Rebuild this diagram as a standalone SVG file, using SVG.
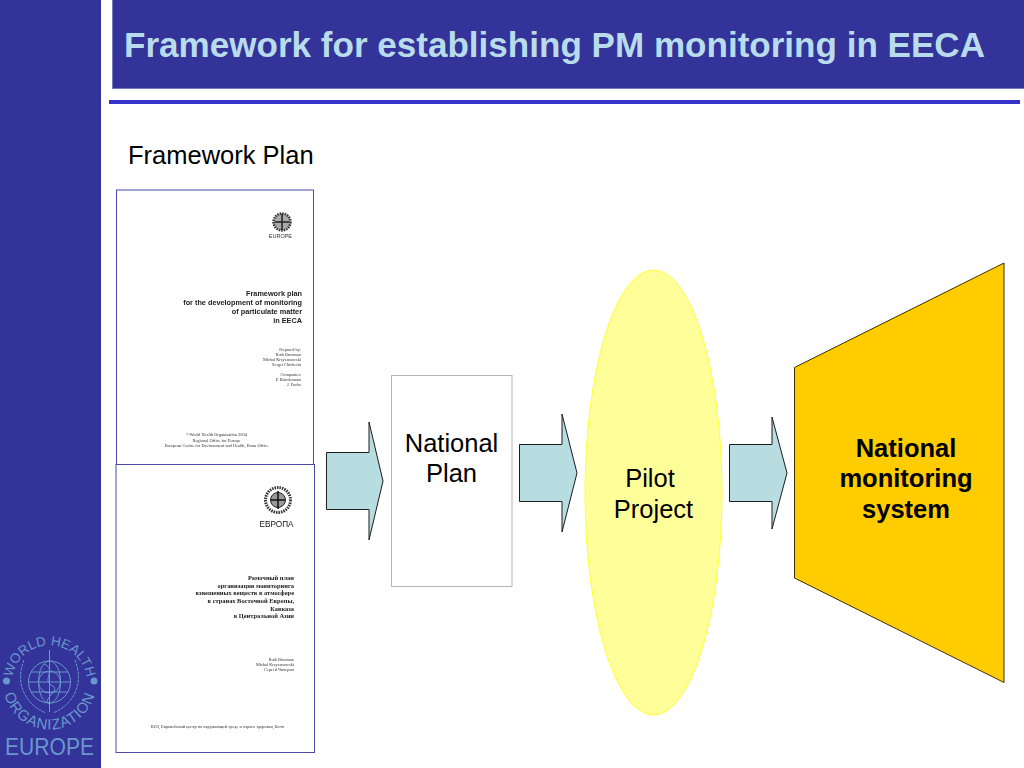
<svg xmlns="http://www.w3.org/2000/svg" width="1024" height="768" viewBox="0 0 1024 768">
<style>
text{font-family:"Liberation Sans",Arial,sans-serif}
.arrow{fill:#b8dde1;stroke:#1c1c1c;stroke-width:1}
.label{font-size:25.500px;fill:#000;text-anchor:middle}
.bold{font-weight:bold;font-size:25.500px;fill:#000;text-anchor:middle}
.doc{fill:#fff;stroke:#4a4aa6;stroke-width:1}
.dt{fill:#333;text-anchor:end;font-family:"Liberation Serif",serif;font-size:4.300px}
.dc{fill:#333;text-anchor:middle;font-family:"Liberation Serif",serif;font-size:4.400px}
.ds{fill:#222;text-anchor:end;font-size:7.300px;font-weight:bold}
.dr{fill:#222;text-anchor:end;font-family:"Liberation Serif",serif;font-size:6.400px;font-weight:bold}
.logo{fill:#6a97cc}
.lk{fill:none;stroke:#6a97cc;stroke-width:1}
</style>
<defs>
<path id="ringText" d="M12,683 A37.500,37.500 0 1 1 87,683"/>
<path id="ringTextB" d="M3,683 A46.500,46.500 0 0 0 96,683"/>
<filter id="soft" x="-5%" y="-5%" width="110%" height="110%"><feGaussianBlur stdDeviation="0.3"/></filter>
</defs>
<rect width="1024" height="768" fill="#fff"/>
<g id="sidebar">
<rect x="0" y="0" width="101" height="768" fill="#333399"/>
<g id="who-logo">
<text class="logo" font-size="13.500"><textPath href="#ringText" startOffset="50%" text-anchor="middle">WORLD HEALTH</textPath></text>
<text class="logo" font-size="15" letter-spacing="0.800"><textPath href="#ringTextB" startOffset="50%" text-anchor="middle">ORGANIZATION</textPath></text>
<circle class="logo" cx="6.500" cy="681" r="3.500"/>
<circle class="logo" cx="94" cy="681" r="3.500"/>
<circle class="lk" cx="49.500" cy="682" r="21"/>
<ellipse class="lk" cx="49.500" cy="682" rx="11" ry="21"/>
<circle class="lk" cx="49.500" cy="682" r="11"/>
<path class="lk" d="M28.500,682H70.500M31,672H68M31,692H68M49.500,650V712"/>
<path class="lk" stroke-width="3.500" stroke-dasharray="3 1" d="M24,660C15,682 24,704 46,713M75,660C84,682 75,704 53,713"/>
<path class="lk" stroke-width="1.500" d="M44,664C58,670 40,680 53,686C60,692 42,698 49,704"/>
<text class="logo" x="49.500" y="755" font-size="24" text-anchor="middle" textLength="89" lengthAdjust="spacingAndGlyphs">EUROPE</text>
</g>
</g>
<g id="header">
<rect x="112.500" y="-2" width="914" height="90.500" fill="#333399" stroke="#7a7ac0" stroke-width="1"/>
<text x="124" y="56.500" font-size="35" font-weight="bold" fill="#b9dcec" textLength="861" lengthAdjust="spacingAndGlyphs">Framework for establishing PM monitoring in EECA</text>
<rect x="109" y="100" width="911" height="4" fill="#3333cc"/>
</g>
<text id="framework-plan-label" x="128" y="164" font-size="25.500" fill="#000">Framework Plan</text>
<g id="doc-en">
<rect class="doc" x="116.500" y="190" width="197" height="275"/>
<g filter="url(#soft)">
<circle cx="282" cy="222" r="8.500" fill="#aaa" stroke="#333" stroke-width="2.500" stroke-dasharray="1.500 1"/>
<path d="M282,214V230M275,222H289" fill="none" stroke="#222" stroke-width="1.500"/>
<text x="292" y="238" style="font-size:5.500px;fill:#333;text-anchor:end">EUROPE</text>
<text class="ds" x="302" y="295.500">Framework plan</text>
<text class="ds" x="302" y="304.500">for the development of monitoring</text>
<text class="ds" x="302" y="313.500">of particulate matter</text>
<text class="ds" x="302" y="322.500">in EECA</text>
<text class="dt" x="301" y="351">Prepared by:</text>
<text class="dt" x="301" y="356">Ruth Brunman</text>
<text class="dt" x="301" y="361">Michal Krzyzanowski</text>
<text class="dt" x="301" y="366">Sergei Chicherin</text>
<text class="dt" x="301" y="376">Companies:</text>
<text class="dt" x="301" y="381">P. Brinckmann</text>
<text class="dt" x="301" y="386">J. Fuchs</text>
<text class="dc" x="216.500" y="436">©World Health Organization 2004</text>
<text class="dc" x="216.500" y="441.500">Regional Office for Europe</text>
<text class="dc" x="216.500" y="447">European Centre for Environment and Health, Bonn Office</text>
</g>
</g>
<g id="doc-ru">
<rect class="doc" x="116" y="464.500" width="198.500" height="288"/>
<g filter="url(#soft)">
<circle cx="278" cy="500" r="12.500" fill="none" stroke="#333" stroke-width="3" stroke-dasharray="1.500 1"/>
<circle cx="278" cy="500" r="7.500" fill="#999" stroke="#222" stroke-width="1"/>
<path d="M278,491V509M271,500H285" fill="none" stroke="#111" stroke-width="1.500"/>
<text x="293.500" y="527" font-size="8.200" text-anchor="end" fill="#111">ЕВРОПА</text>
<text class="dr" x="294" y="580">Рамочный план</text>
<text class="dr" x="294" y="587.500">организация мониторинга</text>
<text class="dr" x="294" y="595">взвешенных веществ в атмосфере</text>
<text class="dr" x="294" y="603">в странах Восточной Европы,</text>
<text class="dr" x="294" y="610.500">Кавказа</text>
<text class="dr" x="294" y="618">в Центральной Азии</text>
<text class="dt" x="294" y="660.500">Ruth Brunman</text>
<text class="dt" x="294" y="665.500">Michal Krzyzanowski</text>
<text class="dt" x="294" y="671">Сергей Чичерин</text>
<text class="dt" x="284" y="728">ВОЗ, Европейский центр по окружающей среде и охране здоровья, Бонн</text>
</g>
</g>
<g id="connectors">
<path id="arrow-1" class="arrow" d="M326.500,452.500H369V422L383,481L369,540V509.500H326.500Z"/>
<path id="arrow-2" class="arrow" d="M519.500,444.500H562V414L577,473L562,532V501.500H519.500Z"/>
<path id="arrow-3" class="arrow" d="M729.500,444.500H772V417L787,473L772,529V501.500H729.500Z"/>
</g>
<g id="national-plan">
<rect x="391.500" y="375.500" width="120.500" height="211" fill="#fff" stroke="#b5b5b5" stroke-width="1"/>
<text class="label" x="451.500" y="452">National</text>
<text class="label" x="451.500" y="482">Plan</text>
</g>
<g id="pilot-project">
<ellipse cx="653.500" cy="492.500" rx="68.500" ry="222.500" fill="#ffff99" stroke="#ffff33" stroke-width="1"/>
<text class="label" x="650" y="487">Pilot</text>
<text class="label" x="653.500" y="518">Project</text>
</g>
<g id="national-monitoring-system">
<path d="M794.500,367.500L1004,263V682.500L794.500,578Z" fill="#ffcc00" stroke="#3c3000" stroke-width="1"/>
<text class="bold" x="906" y="457">National</text>
<text class="bold" x="906" y="487">monitoring</text>
<text class="bold" x="906" y="518">system</text>
</g>
</svg>
